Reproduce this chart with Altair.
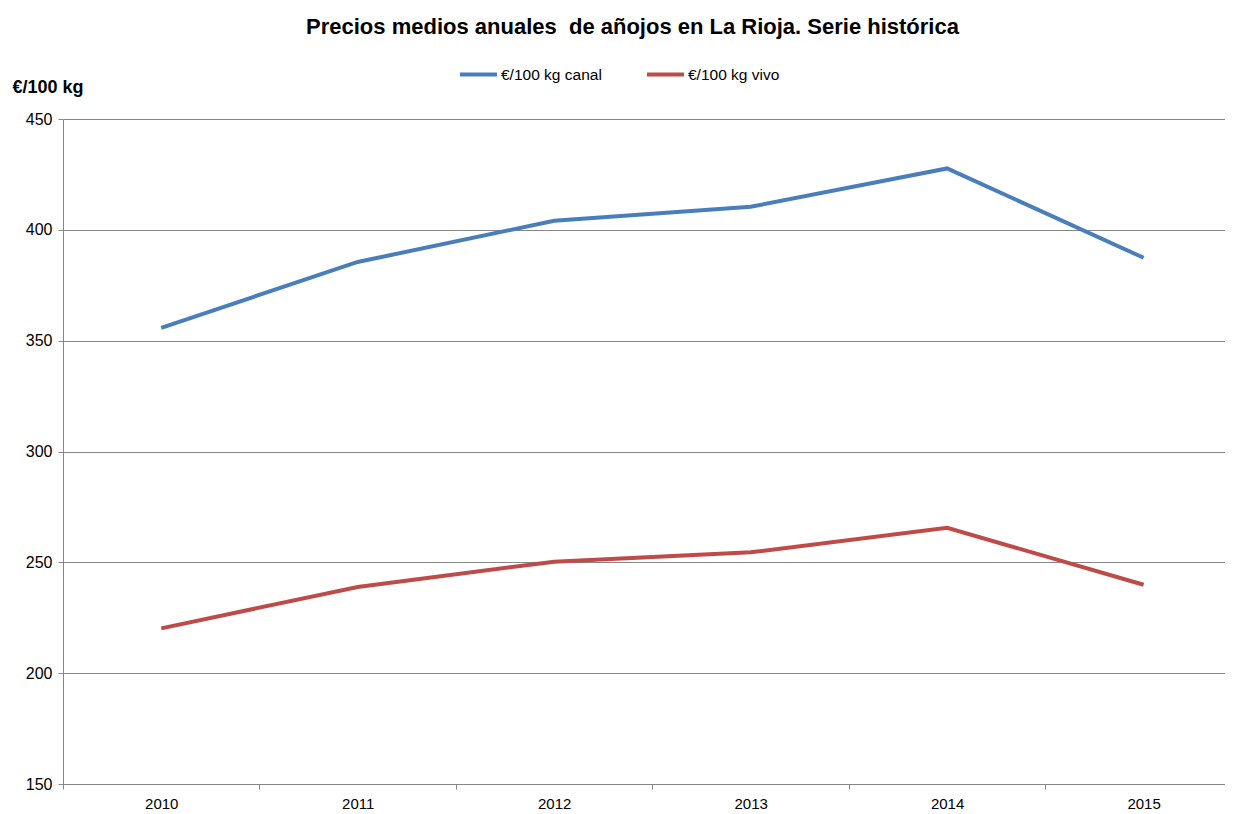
import altair as alt
import pandas as pd

years = [2010, 2011, 2012, 2013, 2014, 2015]
canal = [355.8, 385.5, 404.1, 410.4, 427.7, 387.4]
vivo = [220.2, 238.9, 250.3, 254.5, 265.6, 239.9]
series_names = ["€/100 kg canal", "€/100 kg vivo"]
colors = ["#4A7EBB", "#BE4B48"]
x_ticks = [2009.5, 2010.5, 2011.5, 2012.5, 2013.5, 2014.5]
y_ticks = [150, 200, 250, 300, 350, 400, 450]

rows = []
for y, c, v in zip(years, canal, vivo):
    rows.append({"year": y, "serie": series_names[0], "precio": c})
    rows.append({"year": y, "serie": series_names[1], "precio": v})
df = pd.DataFrame(rows)

W, H = 1169, 665
step = W / 5.95

chart = alt.Chart(df).mark_line(strokeWidth=4).encode(
    x=alt.X("year:Q",
            scale=alt.Scale(domain=[2009.5, 2009.5 + 5.95], nice=False, zero=False),
            axis=alt.Axis(values=x_ticks, title=None, grid=False,
                          labelExpr="datum.value + 0.5", labelFlush=False,
                          labelOffset=step / 2, labelPadding=7,
                          tickSize=5, tickColor="#868686", domainColor="#868686",
                          labelFont="Liberation Sans", labelFontSize=15,
                          labelColor="#000000")),
    y=alt.Y("precio:Q",
            scale=alt.Scale(domain=[150, 450], nice=False, zero=False),
            axis=alt.Axis(values=y_ticks, title="€/100 kg", titleAngle=0,
                          titleX=-51, titleY=-32, titleAlign="left",
                          titleBaseline="middle", titleFont="Liberation Sans",
                          titleFontSize=18, titleFontWeight="bold",
                          titleColor="#000000",
                          grid=True, gridColor="#868686", gridWidth=1,
                          tickSize=5, tickColor="#868686", domainColor="#868686",
                          labelFont="Liberation Sans", labelFontSize=16,
                          labelPadding=6, labelColor="#000000")),
    color=alt.Color("serie:N",
                    scale=alt.Scale(domain=series_names, range=colors),
                    legend=alt.Legend(title=None, orient="none",
                                      direction="horizontal",
                                      legendX=395, legendY=-65,
                                      symbolType="stroke", symbolSize=1369,
                                      symbolStrokeWidth=4, labelOffset=2,
                                      columnPadding=37,
                                      labelFont="Liberation Sans",
                                      labelFontSize=15.5, labelColor="#000000")),
).properties(
    width=W, height=H,
    title=alt.TitleParams("Precios medios anuales\u00a0 de añojos en La Rioja. Serie histórica",
                          font="Liberation Sans", fontSize=22, fontWeight="bold",
                          color="#000000", anchor="middle", dx=-15, offset=15),
    padding={"left": 55, "top": 111, "right": -7, "bottom": 30},
    autosize=alt.AutoSizeParams(type="none"),
).configure_view(stroke=None)

chart.save("out.html", embed_options={"renderer": "svg", "actions": False})
